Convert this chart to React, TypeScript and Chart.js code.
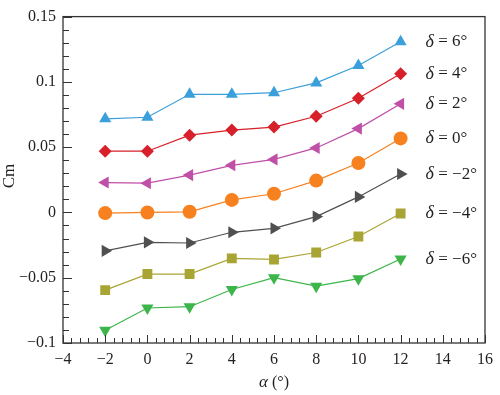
import React, { useEffect, useRef } from "react";
import { Chart, registerables } from "chart.js";

Chart.register(...registerables);

const alpha = [-2, 0, 2, 4, 6, 8, 10, 12];
const cm6 = [0.0717, 0.0729, 0.0905, 0.0905, 0.0917, 0.0992, 0.1125, 0.1307];
const cm4 = [0.0469, 0.0469, 0.0592, 0.0631, 0.0654, 0.0737, 0.0874, 0.1062];
const cm2 = [0.0229, 0.0224, 0.0286, 0.0361, 0.0406, 0.0494, 0.0642, 0.0832];
const cm0 = [-0.0005, 0.0, 0.0005, 0.0096, 0.0143, 0.0244, 0.0379, 0.0567];
const cmN2 = [-0.0294, -0.0229, -0.0234, -0.0152, -0.0122, -0.0032, 0.0119, 0.0294];
const cmN4 = [-0.0595, -0.0472, -0.0472, -0.0352, -0.036, -0.0307, -0.0184, -0.0008];
const cmN6 = [-0.0902, -0.0732, -0.0722, -0.059, -0.05, -0.0565, -0.0507, -0.0357];
const seriesLabels = ["6°", "4°", "2°", "0°", "−2°", "−4°", "−6°"];

const FONT = "'Liberation Serif'";
const TEXT = "#231f20";

const framePlugin = {
  id: "frameTicks",
  afterDraw(chart: any) {
    const ctx = chart.ctx;
    const { left, right, top, bottom } = chart.chartArea;
    const xs = chart.scales.x;
    const ys = chart.scales.y;
    ctx.save();
    ctx.strokeStyle = "#333333";
    ctx.lineWidth = 1.3;
    ctx.strokeRect(left, top, right - left, bottom - top);
    ctx.lineWidth = 1;
    ctx.beginPath();
    for (let i = 0; i <= 50; i++) {
      const v = -4 + i * 0.4;
      const px = Math.round(xs.getPixelForValue(v)) + 0.5;
      const len = i % 5 === 0 ? 8 : 5;
      ctx.moveTo(px, bottom);
      ctx.lineTo(px, bottom - len);
    }
    for (let i = 0; i <= 25; i++) {
      const v = -0.1 + i * 0.01;
      const py = Math.round(ys.getPixelForValue(v)) + 0.5;
      const len = i % 5 === 0 ? 9 : 6;
      ctx.moveTo(left, py);
      ctx.lineTo(left + len, py);
    }
    ctx.stroke();

    // series labels
    ctx.fillStyle = TEXT;
    ctx.textBaseline = "middle";
    ctx.textAlign = "left";
    chart.data.datasets.forEach((ds: any, i: number) => {
      const last = ds.data[ds.data.length - 1];
      const py = ys.getPixelForValue(last.y);
      const px = xs.getPixelForValue(last.x) + 25;
      ctx.font = `italic 18px ${FONT}`;
      ctx.fillText("δ", px, py);
      const w = ctx.measureText("δ").width;
      ctx.font = `17px ${FONT}`;
      ctx.fillText(" = " + seriesLabels[i], px + w, py);
    });

    // axis titles
    const cx = (left + right) / 2;
    const ty = 383;
    ctx.font = `italic 17px ${FONT}`;
    const aw = ctx.measureText("α").width;
    ctx.font = `16px ${FONT}`;
    const rw = ctx.measureText(" (°)").width;
    const start = cx - (aw + rw) / 2;
    ctx.textAlign = "left";
    ctx.font = `italic 17px ${FONT}`;
    ctx.fillText("α", start, ty);
    ctx.font = `16px ${FONT}`;
    ctx.fillText(" (°)", start + aw, ty);

    ctx.save();
    ctx.translate(10, 176);
    ctx.rotate(-Math.PI / 2);
    ctx.textAlign = "center";
    ctx.font = `17px ${FONT}`;
    ctx.fillText("Cm", 0, 0);
    ctx.restore();
    ctx.restore();
  },
};

function fmt(v: number) {
  const r = Number(v.toFixed(3));
  const s = String(Math.abs(r));
  return r < 0 ? "−" + s : s;
}

export default function App() {
  const ref = useRef<HTMLCanvasElement>(null);
  useEffect(() => {
    const series = [cm6, cm4, cm2, cm0, cmN2, cmN4, cmN6];
    const colors = ["#3a9fdb", "#d7202a", "#c04fa8", "#f7811f", "#505050", "#a9a534", "#3cb54a"];
    const styles = ["triangle", "rectRot", "triangle", "circle", "triangle", "rect", "triangle"];
    const rotations = [0, 0, -90, 0, 90, 0, 180];
    const radii = [7, 6.5, 7, 7, 7, 7, 7];
    const datasets = series.map((s, i) => ({
      label: "δ = " + seriesLabels[i],
      data: alpha.map((a, j) => ({ x: a, y: s[j] })),
      borderColor: colors[i],
      backgroundColor: colors[i],
      borderWidth: 1.2,
      pointStyle: styles[i],
      pointRotation: rotations[i],
      pointRadius: radii[i],
      pointBorderWidth: 0,
      tension: 0,
    }));
    const chart = new Chart(ref.current!, {
      type: "line",
      data: { datasets },
      options: {
        animation: false,
        responsive: false,
        layout: { padding: { left: 0, top: 10, right: 10, bottom: 0 } },
        plugins: { legend: { display: false }, tooltip: { enabled: false } },
        scales: {
          x: {
            type: "linear",
            min: -4,
            max: 16,
            grid: { display: false, drawTicks: false },
            border: { display: false },
            ticks: {
              stepSize: 2,
              padding: 7,
              color: TEXT,
              font: { family: FONT, size: 16 },
              maxRotation: 0,
              callback: (v: any) => fmt(Number(v)),
            },
            afterFit: (s: any) => {
              s.height = 52;
            },
          },
          y: {
            type: "linear",
            min: -0.1,
            max: 0.15,
            grid: { display: false, drawTicks: false },
            border: { display: false },
            ticks: {
              stepSize: 0.05,
              padding: 7,
              color: TEXT,
              font: { family: FONT, size: 16 },
              callback: (v: any) => fmt(Number(v)),
            },
            afterFit: (s: any) => {
              s.width = 63;
            },
          },
        },
      },
      plugins: [framePlugin],
    } as any);
    return () => chart.destroy();
  }, []);
  return (
    <div style={{ position: "fixed", left: 0, top: 0, width: 500, height: 395, background: "#fff" }}>
      <canvas ref={ref} width={500} height={395} style={{ width: 500, height: 395 }} />
    </div>
  );
}
